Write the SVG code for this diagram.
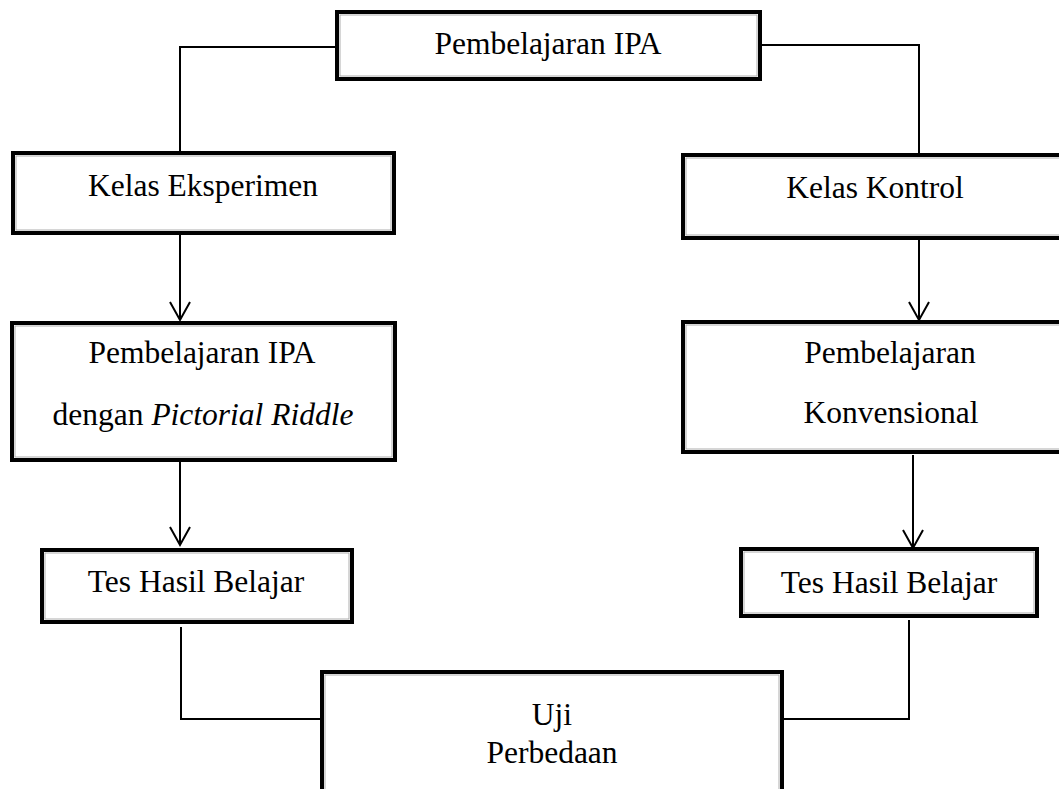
<svg xmlns="http://www.w3.org/2000/svg" width="1059" height="789" viewBox="0 0 1059 789">
<style>
.box{fill:#fff;stroke:#000;stroke-width:4}
.inner{fill:none;stroke:#999;stroke-width:0.8}
.t{font-family:"Liberation Serif","Times New Roman",serif;font-size:31.5px;fill:#000;text-anchor:middle}
.c{fill:none;stroke:#000;stroke-width:2}
</style>
<defs>
<marker id="ah" markerWidth="24" markerHeight="22" refX="11" refY="19" orient="0" markerUnits="userSpaceOnUse">
<path d="M1,1 L11,19 L21,1" fill="none" stroke="#000" stroke-width="2"/>
</marker>
</defs>
<rect width="1059" height="789" fill="#fff"/>
<g id="connectors">
<polyline class="c" points="337,47 180,47 180,153"/>
<polyline class="c" points="760,45 919,45 919,155"/>
<line class="c" x1="180" y1="234" x2="180" y2="320" marker-end="url(#ah)"/>
<line class="c" x1="919" y1="240" x2="919" y2="320" marker-end="url(#ah)"/>
<line class="c" x1="180" y1="462" x2="180" y2="545" marker-end="url(#ah)"/>
<line class="c" x1="913" y1="455" x2="913" y2="548" marker-end="url(#ah)"/>
<polyline class="c" points="181,627 181,719 322,719"/>
<polyline class="c" points="909,620 909,719 782,719"/>
</g>
<g id="n-top">
<rect class="box" x="337" y="12" width="423" height="67"/>
<rect class="inner" x="340" y="15" width="417" height="61"/>
<text class="t" x="548" y="54">Pembelajaran IPA</text>
</g>
<g id="n-eksperimen">
<rect class="box" x="13" y="153" width="381" height="80"/>
<rect class="inner" x="16" y="156" width="375" height="74"/>
<text class="t" x="203" y="196">Kelas Eksperimen</text>
</g>
<g id="n-kontrol">
<rect class="box" x="683" y="155" width="390" height="83"/>
<rect class="inner" x="686" y="158" width="384" height="77"/>
<text class="t" x="875" y="198">Kelas Kontrol</text>
</g>
<g id="n-pictorial">
<rect class="box" x="12" y="323" width="383" height="137"/>
<rect class="inner" x="15" y="326" width="377" height="131"/>
<text class="t" x="202" y="363">Pembelajaran IPA</text>
<text class="t" x="203" y="425">dengan <tspan font-style="italic">Pictorial Riddle</tspan></text>
</g>
<g id="n-konvensional">
<rect class="box" x="683" y="322" width="414" height="130"/>
<rect class="inner" x="686" y="325" width="408" height="124"/>
<text class="t" x="890" y="363">Pembelajaran</text>
<text class="t" x="891" y="423">Konvensional</text>
</g>
<g id="n-tes-kiri">
<rect class="box" x="42" y="550" width="310" height="72"/>
<rect class="inner" x="45" y="553" width="304" height="66"/>
<text class="t" x="196" y="592">Tes Hasil Belajar</text>
</g>
<g id="n-tes-kanan">
<rect class="box" x="741" y="549" width="296" height="67"/>
<rect class="inner" x="744" y="552" width="290" height="61"/>
<text class="t" x="889" y="593">Tes Hasil Belajar</text>
</g>
<g id="n-uji">
<rect class="box" x="322" y="672" width="460" height="140"/>
<rect class="inner" x="325" y="675" width="454" height="134"/>
<text class="t" x="552" y="725">Uji</text>
<text class="t" x="552" y="763">Perbedaan</text>
</g>
</svg>
